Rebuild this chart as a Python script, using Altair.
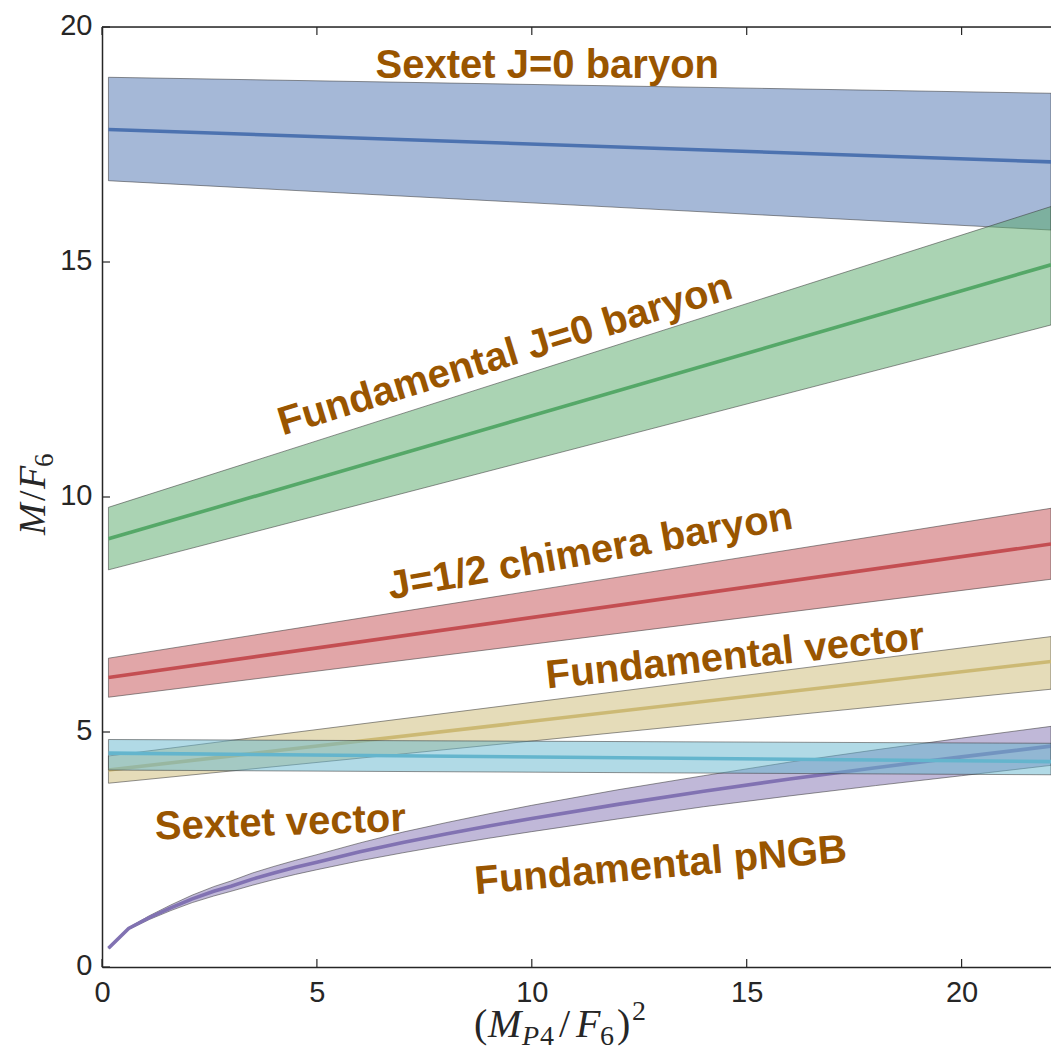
import altair as alt
import pandas as pd

# ---------------- data ----------------
X_TICKS = [0, 5, 10, 15, 20]
Y_TICKS = [0, 5, 10, 15, 20]

X_LIN = [0.15, 22.08]
sextet_baryon_lo = [16.73, 15.68]
sextet_baryon_mid = [17.82, 17.13]
sextet_baryon_hi = [18.93, 18.59]

fund_baryon_lo = [8.45, 13.66]
fund_baryon_mid = [9.11, 14.94]
fund_baryon_hi = [9.78, 16.18]

chimera_lo = [5.74, 8.25]
chimera_mid = [6.16, 9.00]
chimera_hi = [6.57, 9.76]

fund_vector_lo = [3.91, 5.91]
fund_vector_mid = [4.19, 6.50]
fund_vector_hi = [4.49, 7.03]

sextet_vector_lo = [4.19, 4.09]
sextet_vector_mid = [4.55, 4.37]
sextet_vector_hi = [4.84, 4.76]

X_PNGB = [0.15, 0.62, 1.1, 1.6, 2.1, 2.6, 3.0, 3.5, 4.0, 4.5, 5.0, 6.0, 7.0, 8.0, 9.0, 10.0,
          12.0, 14.0, 16.0, 18.0, 20.0, 22.08]
pngb_lo = [0.40, 0.80, 1.01, 1.20, 1.37, 1.51, 1.61, 1.74, 1.86, 1.97, 2.07, 2.26, 2.43, 2.59,
           2.74, 2.88, 3.15, 3.41, 3.64, 3.86, 4.07, 4.29]
pngb_mid = [0.40, 0.82, 1.05, 1.26, 1.45, 1.61, 1.72, 1.87, 2.00, 2.12, 2.23, 2.45, 2.65, 2.83,
            3.00, 3.16, 3.46, 3.74, 4.00, 4.24, 4.47, 4.70]
pngb_hi = [0.40, 0.84, 1.09, 1.32, 1.53, 1.71, 1.83, 2.00, 2.14, 2.27, 2.39, 2.64, 2.87, 3.07,
           3.26, 3.44, 3.77, 4.07, 4.36, 4.62, 4.87, 5.12]

label_text = ["Sextet J=0 baryon", "Fundamental J=0 baryon", "J=1/2 chimera baryon",
              "Fundamental vector", "Sextet vector", "Fundamental pNGB"]
label_x = [10.36, 9.38, 11.36, 14.73, 4.15, 13.0]
label_y = [19.17, 13.02, 8.83, 6.60, 3.06, 2.15]
label_angle = [0, 343, 350, 354, 358, 355]

# ---------------- styling ----------------
W, H = 949, 940
AXC = "#262626"
LABEL_COLOR = "#995500"
XDOM = [0, 22.08]
YDOM = [0, 20]

xs = alt.Scale(domain=XDOM, nice=False, zero=False)
ys = alt.Scale(domain=YDOM, nice=False, zero=False)

x_axis = alt.Axis(values=X_TICKS, format="d", title=None, ticks=False, grid=False,
                  domain=True, domainColor=AXC, domainWidth=1.5, labelFont="Liberation Sans",
                  labelFontSize=29, labelColor=AXC, labelPadding=11, labelFlush=False,
                  labelOverlap=False)
y_axis = alt.Axis(values=Y_TICKS, format="d", title=None, ticks=False, grid=False,
                  domain=True, domainColor=AXC, domainWidth=1.5, labelFont="Liberation Sans",
                  labelFontSize=29, labelColor=AXC, labelPadding=10, labelFlush=False,
                  labelOverlap=False, labelOffset=-2)

series = [
    (X_LIN, sextet_baryon_lo, sextet_baryon_mid, sextet_baryon_hi, "#4C72B0"),
    (X_LIN, fund_baryon_lo, fund_baryon_mid, fund_baryon_hi, "#55A868"),
    (X_LIN, chimera_lo, chimera_mid, chimera_hi, "#C44E52"),
    (X_LIN, fund_vector_lo, fund_vector_mid, fund_vector_hi, "#CCB974"),
    (X_PNGB, pngb_lo, pngb_mid, pngb_hi, "#8172B2"),
    (X_LIN, sextet_vector_lo, sextet_vector_mid, sextet_vector_hi, "#64B5CD"),
]

layers = []
for xv, lo, mid, hi, col in series:
    d = pd.DataFrame({"x": xv, "lo": lo, "mid": mid, "hi": hi})
    base = alt.Chart(d)
    area = base.mark_area(fill=col, fillOpacity=0.5, stroke="#3a3a3a", strokeOpacity=0.55,
                          strokeWidth=1).encode(
        x=alt.X("x:Q", scale=xs, axis=x_axis),
        y=alt.Y("lo:Q", scale=ys, axis=y_axis),
        y2="hi:Q",
    )
    line = base.mark_line(color=col, strokeWidth=3.6).encode(
        x=alt.X("x:Q", scale=xs, axis=x_axis),
        y=alt.Y("mid:Q", scale=ys, axis=y_axis),
    )
    layers += [area, line]

# inward tick marks (matplotlib classic style)
xt = alt.Chart(pd.DataFrame({"v": X_TICKS}))
yt = alt.Chart(pd.DataFrame({"v": Y_TICKS}))
layers.append(xt.mark_rule(color=AXC, strokeWidth=1.2).encode(
    x=alt.X("v:Q", scale=xs, axis=x_axis), y=alt.value(H), y2=alt.value(H - 8)))
layers.append(xt.mark_rule(color=AXC, strokeWidth=1.2).encode(
    x=alt.X("v:Q", scale=xs, axis=x_axis), y=alt.value(0), y2=alt.value(8)))
layers.append(yt.mark_rule(color=AXC, strokeWidth=1.2).encode(
    y=alt.Y("v:Q", scale=ys, axis=y_axis), x=alt.value(0), x2=alt.value(8)))
# top spine
layers.append(alt.Chart(pd.DataFrame({"v": [0]})).mark_rule(color=AXC, strokeWidth=1.5).encode(
    x=alt.value(0), x2=alt.value(W), y=alt.value(0)))

# curve labels
lab = pd.DataFrame({"t": label_text, "x": label_x, "y": label_y, "a": label_angle})
layers.append(alt.Chart(lab).mark_text(font="Liberation Sans", fontWeight="bold", fontSize=40,
                                       color=LABEL_COLOR, align="center", baseline="middle").encode(
    x=alt.X("x:Q", scale=xs, axis=x_axis),
    y=alt.Y("y:Q", scale=ys, axis=y_axis),
    text="t:N",
    angle=alt.Angle("a:Q", scale=None),
))

# axis titles built from math-like pieces
MATH = "Liberation Serif"
x_title = [  # text, dx, dy, size, italic
    ("(", 372, 1010, 40, False),
    ("M", 386, 1010, 40, True),
    ("P", 420, 1018, 28, True),
    ("4", 438, 1018, 28, False),
    ("/", 457, 1010, 40, False),
    ("F", 474, 1010, 40, True),
    ("6", 498, 1018, 28, False),
    (")", 515, 1010, 40, False),
    ("2", 530, 993, 28, False),
]
y_title = [
    ("M", -57, 508, 38, True),
    ("/", -57, 474, 38, False),
    ("F", -57, 462, 38, True),
    ("6", -49, 440, 27, False),
]
for t, px, py, sz, it in x_title:
    layers.append(alt.Chart(pd.DataFrame({"t": [t]})).mark_text(
        font=MATH, fontSize=sz, fontStyle="italic" if it else "normal", color=AXC,
        align="left", baseline="alphabetic").encode(
        x=alt.value(px), y=alt.value(py), text="t:N"))
for t, px, py, sz, it in y_title:
    layers.append(alt.Chart(pd.DataFrame({"t": [t]})).mark_text(
        font=MATH, fontSize=sz, fontStyle="italic" if it else "normal", color=AXC,
        align="left", baseline="alphabetic", angle=270).encode(
        x=alt.value(px), y=alt.value(py), text="t:N"))

chart = alt.layer(*layers).properties(
    width=W, height=H,
    autosize=alt.AutoSizeParams(type="none"),
    padding={"left": 102, "top": 27, "right": 0, "bottom": 85},
).configure_view(stroke=None).configure(background="white")

chart.save("out.html", embed_options={"renderer": "svg", "actions": False})
